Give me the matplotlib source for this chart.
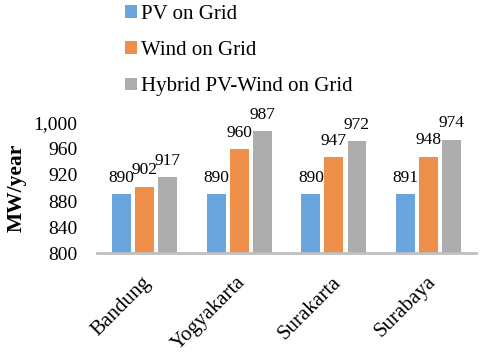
import matplotlib
matplotlib.use("Agg")
import matplotlib.pyplot as plt
import matplotlib.transforms as mtransforms
import numpy as np
from matplotlib.patches import Patch

categories = ["Bandung", "Yogyakarta", "Surakarta", "Surabaya"]
series_names = ["PV on Grid", "Wind on Grid", "Hybrid PV-Wind on Grid"]
pv = [890, 890, 890, 891]
wind = [902, 960, 947, 948]
hybrid = [917, 987, 972, 974]
yticks = [800, 840, 880, 920, 960, 1000]
colors = ["#6AA5DD", "#EF8F4C", "#ADADAD"]

plt.rcParams['font.family'] = ['Liberation Serif', 'DejaVu Serif']

fig = plt.figure(figsize=(4.8, 3.54), dpi=100)
ax = fig.add_axes([0.202, 0.285, 0.790, 0.368])

x = np.arange(len(categories))
width = 0.2
step = 0.243
for i, (vals, c) in enumerate(zip([pv, wind, hybrid], colors)):
    pos = x + (i - 1) * step
    bars = ax.bar(pos, vals, width=width, color=c, edgecolor='none', zorder=2)
    for b, v in zip(bars, vals):
        ax.annotate(f"{v}", (b.get_x() + b.get_width() / 2, v), xytext=(0, 6),
                    textcoords='offset points', ha='center', va='bottom',
                    fontsize=12.5, color='#000000')

ax.set_xlim(-0.5, len(categories) - 0.5)
ax.set_ylim(800, 1000)
ax.set_yticks(yticks)
ax.set_yticklabels([f"{t:,}" for t in yticks], fontsize=14)
ax.set_xticks(x)
ax.set_xticklabels(categories, rotation=45, ha='right', va='center',
                   rotation_mode='anchor', fontsize=15)
ax.tick_params(axis='y', length=0, pad=14)
ax.tick_params(axis='x', length=0, pad=19)
off = mtransforms.ScaledTranslation(4 / 100, 0, fig.dpi_scale_trans)
for lab in ax.get_xticklabels():
    lab.set_transform(lab.get_transform() + off)
for s in ['top', 'right', 'left']:
    ax.spines[s].set_visible(False)
ax.spines['bottom'].set_color('#BFBFBF')
ax.spines['bottom'].set_linewidth(2)
ax.spines['bottom'].set_zorder(3)
ax.set_ylabel("MW/year", fontsize=15.5, fontweight='bold', labelpad=5)

handles = [Patch(facecolor=c, edgecolor='none') for c in colors]
fig.legend(handles, series_names, loc='upper left', bbox_to_anchor=(0.244, 1.01),
           frameon=False, fontsize=15, handlelength=0.55, handleheight=0.55,
           handletextpad=0.2, labelspacing=0.83, borderaxespad=0)

fig.savefig("out.png", dpi=100)
